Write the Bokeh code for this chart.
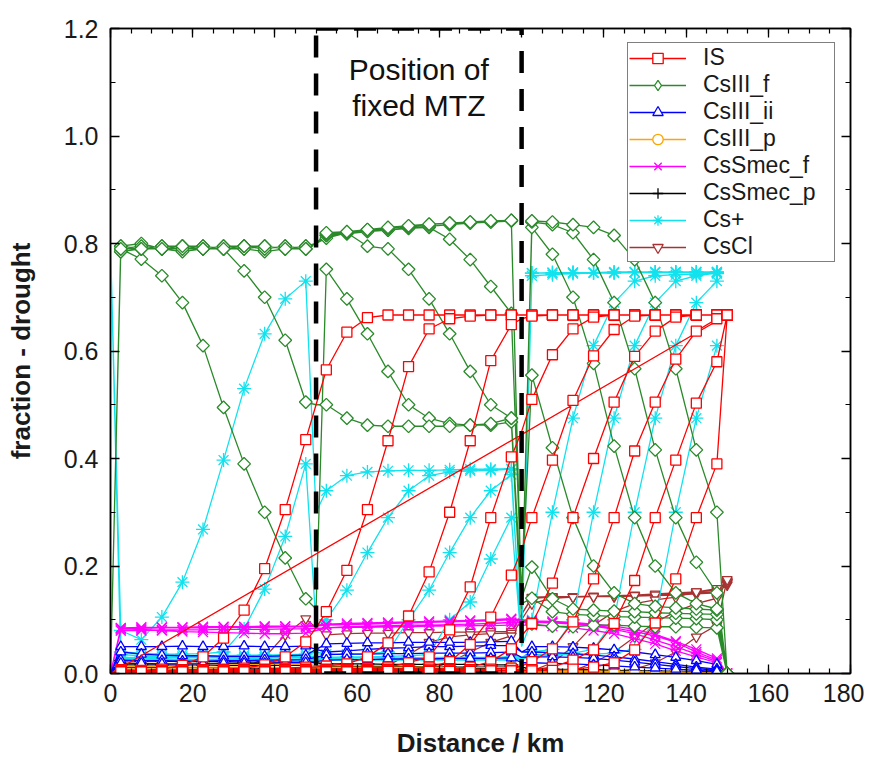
import math
from bokeh.plotting import figure
from bokeh.models import Range1d, LinearAxis, Legend, LegendItem, Label, FixedTicker
from bokeh.embed import file_html
from bokeh.resources import INLINE

NAN = float("nan")

# ---------------- data ----------------
distance_km = [0, 2.5, 7.5, 12.5, 17.5, 22.5, 27.5, 32.5, 37.5, 42.5, 47.5,
               50, 52.5, 57.5, 62.5, 67.5, 72.5, 77.5, 82.5, 87.5, 92.5, 97.5,
               100, 102.5, 107.5, 112.5, 117.5, 122.5, 127.5, 132.5, 137.5, 142.5, 147.5,
               150]
# boundary nodes (inlet and MTZ edges) are drawn without a marker
boundary_km = [0, 50, 100]

mtz_start = 50
mtz_end = 100

x_ticks = [0, 20, 40, 60, 80, 100, 120, 140, 160, 180]
x_minor = [0, 5, 10, 15, 20, 25, 30, 35, 40, 45, 50, 55, 60, 65, 70, 75, 80, 85, 90,
           95, 100, 105, 110, 115, 120, 125, 130, 135, 140, 145, 150, 155, 160, 165,
           170, 175, 180]
y_ticks = [0.0, 0.2, 0.4, 0.6, 0.8, 1.0, 1.2]
y_tick_labels = ["0.0", "0.2", "0.4", "0.6", "0.8", "1.0", "1.2"]
y_minor = [0.0, 0.1, 0.2, 0.3, 0.4, 0.5, 0.6, 0.7, 0.8, 0.9, 1.0, 1.1, 1.2]

# IS
is_t1 = [0.000,
         0.007, 0.006, 0.008, 0.015, 0.031, 0.066, 0.118, 0.195, 0.305, 0.435,
         0.500,
         0.565, 0.635, 0.662, 0.667, 0.667, 0.667, 0.667, 0.667, 0.667, 0.667,
         0.667,
         0.667, 0.667, 0.667, 0.667, 0.667, 0.667, 0.667, 0.667, 0.667, 0.667,
         0.667]
is_t2 = [0.000,
         0.004, 0.005, 0.006, 0.007, 0.007, 0.008, 0.010, 0.016, 0.031, 0.059,
         0.085,
         0.115, 0.192, 0.305, 0.433, 0.571, 0.641, 0.660, 0.665, 0.667, 0.667,
         0.667,
         0.667, 0.667, 0.667, 0.667, 0.667, 0.667, 0.667, 0.667, 0.667, 0.667,
         0.667]
is_t3 = [0.000,
         0.005, 0.004, 0.005, 0.006, 0.006, 0.007, 0.007, 0.008, 0.010, 0.012,
         0.012,
         0.014, 0.018, 0.031, 0.057, 0.107, 0.189, 0.300, 0.433, 0.582, 0.649,
         0.660,
         0.665, 0.667, 0.667, 0.667, 0.667, 0.667, 0.667, 0.667, 0.667, 0.667,
         0.667]
is_t4 = [0.000,
         0.006, 0.005, 0.005, 0.005, 0.006, 0.006, 0.007, 0.007, 0.008, 0.008,
         0.008,
         0.008, 0.009, 0.010, 0.012, 0.020, 0.031, 0.081, 0.161, 0.290, 0.403,
         0.450,
         0.510, 0.593, 0.641, 0.663, 0.667, 0.667, 0.667, 0.667, 0.667, 0.667,
         0.667]
is_t5 = [0.000,
         0.004, 0.004, 0.005, 0.005, 0.005, 0.006, 0.006, 0.006, 0.007, 0.007,
         0.007,
         0.007, 0.007, 0.008, 0.008, 0.009, 0.012, 0.022, 0.054, 0.105, 0.183,
         0.230,
         0.290, 0.397, 0.508, 0.591, 0.640, 0.665, 0.667, 0.667, 0.667, 0.667,
         0.667]
is_t6 = [0.000,
         0.005, 0.005, 0.004, 0.005, 0.005, 0.005, 0.006, 0.005, 0.006, 0.006,
         0.006,
         0.006, 0.006, 0.007, 0.007, 0.007, 0.008, 0.009, 0.012, 0.022, 0.046,
         0.070,
         0.093, 0.168, 0.290, 0.400, 0.505, 0.590, 0.637, 0.663, 0.667, 0.667,
         0.667]
is_t7 = [0.000,
         0.004, 0.004, 0.004, 0.004, 0.005, 0.005, 0.005, 0.005, 0.005, 0.005,
         0.005,
         0.005, 0.005, 0.006, 0.006, 0.006, 0.006, 0.007, 0.007, 0.008, 0.010,
         0.014,
         0.022, 0.046, 0.096, 0.176, 0.290, 0.414, 0.505, 0.585, 0.637, 0.660,
         0.667]
is_t8 = [0.000,
         0.003, 0.003, 0.003, 0.003, 0.003, 0.003, 0.003, 0.003, 0.003, 0.003,
         0.004,
         0.004, 0.004, 0.004, 0.005, 0.005, 0.005, 0.005, 0.005, 0.006, 0.006,
         0.006,
         0.007, 0.012, 0.025, 0.044, 0.093, 0.173, 0.290, 0.397, 0.503, 0.580,
         0.667]
is_t9 = [0.000,
         0.003, 0.003, 0.003, 0.003, 0.003, 0.003, 0.003, 0.003, 0.003, 0.003,
         0.003,
         0.003, 0.003, 0.003, 0.004, 0.004, 0.004, 0.004, 0.004, 0.005, 0.005,
         0.005,
         0.005, 0.006, 0.008, 0.012, 0.020, 0.044, 0.094, 0.176, 0.290, 0.390,
         0.667]

# CsIII_f
f_t1 = [0.000,
        0.790, 0.771, 0.740, 0.690, 0.610, 0.495, 0.390, 0.300, 0.215, 0.139,
        0.120,
        0.752, 0.697, 0.632, 0.562, 0.500, 0.475, 0.465, 0.462, 0.462, 0.468,
        0.100,
        0.092, 0.088, 0.087, 0.090, 0.090, 0.088, 0.087, 0.087, 0.086, 0.085,
        0.000]
f_t2 = [0.000,
        0.785, 0.790, 0.795, 0.795, 0.790, 0.790, 0.749, 0.700, 0.620, 0.505,
        0.500,
        0.500, 0.475, 0.462, 0.460, 0.460, 0.460, 0.460, 0.462, 0.465, 0.475,
        0.130,
        0.140, 0.115, 0.110, 0.108, 0.106, 0.105, 0.104, 0.103, 0.102, 0.100,
        0.000]
f_t3 = [0.000,
        0.795, 0.800, 0.790, 0.785, 0.790, 0.795, 0.790, 0.785, 0.790, 0.795,
        0.800,
        0.810, 0.820, 0.795, 0.790, 0.752, 0.697, 0.632, 0.562, 0.500, 0.475,
        0.140,
        0.198, 0.139, 0.120, 0.118, 0.116, 0.115, 0.113, 0.112, 0.111, 0.110,
        0.000]
f_t4 = [0.000,
        0.785, 0.790, 0.790, 0.795, 0.795, 0.790, 0.795, 0.790, 0.795, 0.790,
        0.800,
        0.815, 0.820, 0.825, 0.825, 0.828, 0.830, 0.808, 0.770, 0.720, 0.670,
        0.150,
        0.555, 0.420, 0.290, 0.200, 0.150, 0.130, 0.125, 0.122, 0.120, 0.118,
        0.000]
f_t5 = [0.000,
        0.790, 0.795, 0.790, 0.790, 0.795, 0.790, 0.790, 0.795, 0.790, 0.795,
        0.800,
        0.815, 0.818, 0.822, 0.825, 0.830, 0.832, 0.835, 0.838, 0.840, 0.842,
        0.120,
        0.830, 0.780, 0.700, 0.577, 0.423, 0.290, 0.200, 0.150, 0.130, 0.120,
        0.000]
f_t6 = [0.000,
        0.795, 0.790, 0.795, 0.790, 0.790, 0.795, 0.795, 0.790, 0.795, 0.790,
        0.800,
        0.818, 0.820, 0.825, 0.828, 0.832, 0.835, 0.838, 0.840, 0.840, 0.843,
        0.120,
        0.840, 0.835, 0.820, 0.770, 0.690, 0.567, 0.416, 0.290, 0.207, 0.150,
        0.000]
f_t7 = [0.000,
        0.790, 0.790, 0.790, 0.795, 0.790, 0.790, 0.795, 0.795, 0.790, 0.790,
        0.800,
        0.820, 0.822, 0.826, 0.830, 0.833, 0.836, 0.838, 0.840, 0.842, 0.843,
        0.120,
        0.842, 0.840, 0.835, 0.830, 0.815, 0.770, 0.690, 0.567, 0.416, 0.300,
        0.000]

# CsIII_ii
ii_t1 = [0.000,
         0.050, 0.050, 0.050, 0.051, 0.050, 0.050, 0.051, 0.050, 0.050, 0.051,
         0.045,
         0.040, 0.042, 0.045, 0.047, 0.048, 0.050, 0.050, 0.051, 0.052, 0.052,
         0.040,
         0.050, 0.050, 0.049, 0.047, 0.044, 0.040, 0.035, 0.030, 0.024, 0.017,
         0.000]
ii_t2 = [0.000,
         0.040, 0.036, 0.034, 0.033, 0.033, 0.032, 0.032, 0.032, 0.033, 0.034,
         0.045,
         0.055, 0.056, 0.057, 0.057, 0.058, 0.058, 0.058, 0.058, 0.059, 0.060,
         0.040,
         0.040, 0.039, 0.037, 0.034, 0.031, 0.027, 0.022, 0.017, 0.012, 0.008,
         0.000]
ii_t3 = [0.000,
         0.025, 0.024, 0.024, 0.023, 0.023, 0.024, 0.024, 0.025, 0.025, 0.026,
         0.030,
         0.035, 0.036, 0.036, 0.037, 0.037, 0.038, 0.038, 0.038, 0.039, 0.040,
         0.030,
         0.031, 0.031, 0.030, 0.028, 0.025, 0.021, 0.017, 0.013, 0.009, 0.006,
         0.000]
ii_t4 = [0.000,
         0.019, 0.019, 0.018, 0.018, 0.018, 0.019, 0.019, 0.019, 0.020, 0.020,
         0.022,
         0.025, 0.026, 0.026, 0.027, 0.027, 0.027, 0.028, 0.028, 0.028, 0.029,
         0.020,
         0.020, 0.019, 0.018, 0.016, 0.014, 0.012, 0.010, 0.008, 0.006, 0.004,
         0.000]

# CsIII_p
p_t1 = [0.000,
        0.020, 0.019, 0.019, 0.018, 0.018, 0.018, 0.017, 0.017, 0.017, 0.017,
        0.014,
        0.012, 0.012, 0.012, 0.012, 0.012, 0.012, 0.011, 0.011, 0.011, 0.011,
        0.008,
        0.006, 0.006, 0.005, 0.005, 0.004, 0.004, 0.003, 0.003, 0.002, 0.002,
        0.000]
p_t2 = [0.000,
        0.013, 0.013, 0.013, 0.012, 0.012, 0.012, 0.012, 0.012, 0.011, 0.011,
        0.010,
        0.008, 0.008, 0.008, 0.008, 0.008, 0.008, 0.008, 0.007, 0.007, 0.007,
        0.005,
        0.004, 0.004, 0.004, 0.003, 0.003, 0.003, 0.002, 0.002, 0.002, 0.001,
        0.000]
p_t3 = [0.000,
        0.008, 0.008, 0.008, 0.008, 0.008, 0.008, 0.007, 0.007, 0.007, 0.007,
        0.006,
        0.005, 0.005, 0.005, 0.005, 0.005, 0.005, 0.005, 0.005, 0.005, 0.005,
        0.003,
        0.002, 0.002, 0.002, 0.002, 0.002, 0.001, 0.001, 0.001, 0.001, 0.001,
        0.000]

# CsSmec_f
sf_t1 = [0.000,
         0.085, 0.086, 0.086, 0.086, 0.087, 0.087, 0.087, 0.088, 0.088, 0.088,
         0.090,
         0.092, 0.093, 0.094, 0.095, 0.096, 0.097, 0.098, 0.099, 0.100, 0.102,
         0.100,
         0.098, 0.097, 0.095, 0.092, 0.088, 0.082, 0.073, 0.060, 0.045, 0.028,
         0.000]
sf_t2 = [0.000,
         0.084, 0.082, 0.080, 0.078, 0.077, 0.076, 0.075, 0.074, 0.074, 0.075,
         0.080,
         0.085, 0.087, 0.088, 0.089, 0.090, 0.090, 0.091, 0.092, 0.093, 0.095,
         0.095,
         0.095, 0.094, 0.092, 0.088, 0.082, 0.074, 0.062, 0.050, 0.036, 0.022,
         0.000]
sf_t3 = [0.000,
         0.083, 0.084, 0.085, 0.085, 0.085, 0.086, 0.086, 0.086, 0.087, 0.087,
         0.088,
         0.090, 0.091, 0.092, 0.093, 0.094, 0.095, 0.096, 0.097, 0.098, 0.100,
         0.098,
         0.096, 0.095, 0.093, 0.090, 0.085, 0.078, 0.070, 0.058, 0.040, 0.025,
         0.000]
sf_t4 = [0.000,
         0.080, 0.080, 0.081, 0.081, 0.081, 0.082, 0.082, 0.082, 0.083, 0.083,
         0.084,
         0.085, 0.086, 0.086, 0.087, 0.087, 0.088, 0.088, 0.089, 0.089, 0.090,
         0.090,
         0.090, 0.088, 0.085, 0.080, 0.074, 0.065, 0.055, 0.042, 0.031, 0.020,
         0.000]

# CsSmec_p
sp_t1 = [0.000,
         0.024, 0.023, 0.023, 0.022, 0.022, 0.022, 0.021, 0.021, 0.021, 0.021,
         0.020,
         0.018, 0.018, 0.018, 0.017, 0.017, 0.017, 0.017, 0.017, 0.016, 0.016,
         0.012,
         0.008, 0.008, 0.007, 0.007, 0.006, 0.005, 0.005, 0.004, 0.004, 0.003,
         0.000]
sp_t2 = [0.000,
         0.016, 0.016, 0.016, 0.016, 0.016, 0.015, 0.015, 0.015, 0.015, 0.015,
         0.014,
         0.013, 0.013, 0.013, 0.013, 0.013, 0.012, 0.012, 0.012, 0.012, 0.012,
         0.008,
         0.005, 0.005, 0.005, 0.004, 0.004, 0.004, 0.003, 0.003, 0.002, 0.002,
         0.000]
sp_t3 = [0.000,
         0.011, 0.011, 0.011, 0.011, 0.011, 0.011, 0.010, 0.010, 0.010, 0.010,
         0.010,
         0.009, 0.009, 0.009, 0.009, 0.009, 0.009, 0.009, 0.009, 0.009, 0.009,
         0.006,
         0.003, 0.003, 0.003, 0.003, 0.003, 0.002, 0.002, 0.002, 0.002, 0.002,
         0.000]

# Cs+
c_t1 = [0.800,
        0.080, 0.063, 0.105, 0.170, 0.268, 0.397, 0.530, 0.632, 0.697, 0.730,
        0.300,
        0.340, 0.368, 0.375, 0.377, 0.378, 0.378, 0.379, 0.380, 0.380, 0.381,
        0.050,
        0.745, 0.746, 0.746, 0.746, 0.747, 0.747, 0.747, 0.747, 0.747, 0.747,
        NAN]
c_t2 = [0.800,
        0.040, 0.038, 0.036, 0.036, 0.037, 0.040, 0.083, 0.157, 0.255, 0.390,
        0.090,
        0.100, 0.155, 0.225, 0.290, 0.340, 0.368, 0.375, 0.377, 0.378, 0.380,
        0.050,
        0.745, 0.745, 0.746, 0.746, 0.746, 0.747, 0.747, 0.747, 0.747, 0.747,
        NAN]
c_t3 = [0.800,
        0.035, 0.033, 0.032, 0.032, 0.033, 0.033, 0.034, 0.034, 0.035, 0.036,
        0.040,
        0.036, 0.036, 0.037, 0.040, 0.100, 0.155, 0.225, 0.290, 0.340, 0.370,
        0.050,
        0.740, 0.742, 0.744, 0.745, 0.745, 0.746, 0.746, 0.746, 0.746, 0.746,
        NAN]
c_t4 = [0.800,
        0.030, 0.030, 0.030, 0.030, 0.030, 0.031, 0.031, 0.031, 0.031, 0.032,
        0.032,
        0.030, 0.031, 0.031, 0.032, 0.033, 0.035, 0.100, 0.133, 0.213, 0.290,
        0.050,
        0.100, 0.300, 0.475, 0.610, 0.690, 0.730, 0.740, 0.742, 0.743, 0.744,
        NAN]
c_t5 = [0.800,
        0.028, 0.028, 0.028, 0.029, 0.029, 0.029, 0.029, 0.030, 0.030, 0.030,
        0.030,
        0.028, 0.028, 0.029, 0.029, 0.029, 0.030, 0.030, 0.030, 0.030, 0.031,
        0.030,
        0.040, 0.045, 0.100, 0.300, 0.475, 0.610, 0.690, 0.730, 0.740, 0.745,
        NAN]
c_t6 = [0.800,
        0.026, 0.026, 0.026, 0.026, 0.026, 0.026, 0.027, 0.027, 0.027, 0.027,
        0.027,
        0.026, 0.026, 0.026, 0.026, 0.026, 0.027, 0.027, 0.027, 0.027, 0.027,
        0.028,
        0.035, 0.036, 0.038, 0.045, 0.100, 0.300, 0.475, 0.610, 0.690, 0.730,
        NAN]
c_t7 = [0.800,
        0.025, 0.025, 0.025, 0.025, 0.025, 0.025, 0.025, 0.025, 0.025, 0.025,
        0.025,
        0.025, 0.025, 0.025, 0.025, 0.025, 0.025, 0.025, 0.025, 0.025, 0.025,
        0.026,
        0.033, 0.034, 0.035, 0.036, 0.038, 0.045, 0.100, 0.300, 0.475, 0.610,
        NAN]

# CsCl
cl_t1 = [0.000,
         0.002, 0.002, 0.002, 0.002, 0.003, 0.004, 0.008, 0.030, 0.072, 0.102,
         0.085,
         0.072, 0.074, 0.075, 0.075, 0.076, 0.076, 0.077, 0.077, 0.078, 0.078,
         0.110,
         0.140, 0.142, 0.142, 0.143, 0.143, 0.144, 0.145, 0.146, 0.148, 0.150,
         0.165]
cl_t2 = [0.000,
         0.002, 0.002, 0.002, 0.002, 0.002, 0.002, 0.002, 0.002, 0.002, 0.002,
         0.002,
         0.002, 0.003, 0.006, 0.015, 0.035, 0.058, 0.068, 0.072, 0.074, 0.075,
         0.110,
         0.142, 0.143, 0.143, 0.144, 0.145, 0.146, 0.148, 0.150, 0.152, 0.155,
         0.168]
cl_t3 = [0.000,
         0.001, 0.001, 0.001, 0.001, 0.001, 0.001, 0.001, 0.001, 0.001, 0.001,
         0.001,
         0.002, 0.002, 0.002, 0.002, 0.004, 0.008, 0.020, 0.040, 0.058, 0.070,
         0.100,
         0.130, 0.140, 0.142, 0.143, 0.144, 0.145, 0.146, 0.148, 0.150, 0.152,
         0.170]
cl_t4 = [0.000,
         0.001, 0.001, 0.001, 0.001, 0.001, 0.001, 0.001, 0.001, 0.001, 0.001,
         0.001,
         0.001, 0.001, 0.001, 0.001, 0.001, 0.002, 0.002, 0.002, 0.003, 0.003,
         0.004,
         0.005, 0.020, 0.050, 0.090, 0.115, 0.130, 0.137, 0.142, 0.152, 0.158,
         0.170]
cl_t5 = [0.000,
         0.001, 0.001, 0.001, 0.001, 0.001, 0.001, 0.001, 0.001, 0.001, 0.001,
         0.001,
         0.001, 0.001, 0.001, 0.001, 0.001, 0.001, 0.001, 0.001, 0.002, 0.002,
         0.002,
         0.002, 0.003, 0.005, 0.020, 0.040, 0.068, 0.095, 0.115, 0.130, 0.140,
         0.172]
cl_t6 = [0.000,
         0.001, 0.001, 0.001, 0.001, 0.001, 0.001, 0.001, 0.001, 0.001, 0.001,
         0.001,
         0.001, 0.001, 0.001, 0.001, 0.001, 0.001, 0.001, 0.001, 0.001, 0.001,
         0.001,
         0.001, 0.002, 0.002, 0.003, 0.004, 0.008, 0.020, 0.040, 0.068, 0.090,
         0.175]

species = [
    # name, snapshots, colour, marker, size, angle, joined, legend marker
    ("IS", [is_t1, is_t2, is_t3, is_t4, is_t5, is_t6, is_t7, is_t8, is_t9], "#ff0000", "square", 10, 0.0, True, None),
    ("CsIII_f", [f_t1, f_t2, f_t3, f_t4, f_t5, f_t6, f_t7], "#2a8a2a", "square", 9, math.pi / 4, False, "diamond"),
    ("CsIII_ii", [ii_t1, ii_t2, ii_t3, ii_t4], "#0000ff", "triangle", 10, 0.0, False, None),
    ("CsIII_p", [p_t1, p_t2, p_t3], "#ffa500", "circle", 10, 0.0, False, None),
    ("CsSmec_f", [sf_t1, sf_t2, sf_t3, sf_t4], "#ff00ff", "x", 14, 0.0, False, None),
    ("CsSmec_p", [sp_t1, sp_t2, sp_t3], "#000000", "cross", 14, 0.0, False, None),
    ("Cs+", [c_t1, c_t2, c_t3, c_t4, c_t5, c_t6, c_t7], "#12e2ee", "asterisk", 14, 0.0, False, None),
    ("CsCl", [cl_t1, cl_t2, cl_t3, cl_t4, cl_t5, cl_t6], "#a83232", "inverted_triangle", 10, 0.0, False, None),
]

FONT = "Liberation Sans"

p = figure(width=864, height=760, output_backend="svg", toolbar_location=None,
           x_range=Range1d(0, 180), y_range=Range1d(0, 1.2),
           min_border_left=110, min_border_right=14, min_border_top=28, min_border_bottom=83,
           background_fill_color="white", border_fill_color="white")
p.grid.visible = False
p.outline_line_color = "black"
p.outline_line_width = 1.5

xt = FixedTicker(ticks=x_ticks, minor_ticks=x_minor)
yt = FixedTicker(ticks=y_ticks, minor_ticks=y_minor)


def style_axis(ax, ticker):
    ax.ticker = ticker
    ax.axis_line_color = "black"
    ax.axis_line_width = 1.5
    ax.major_tick_in = 9
    ax.major_tick_out = 0
    ax.minor_tick_in = 5
    ax.minor_tick_out = 0
    ax.major_tick_line_color = "black"
    ax.minor_tick_line_color = "black"
    ax.major_tick_line_width = 1.3
    ax.minor_tick_line_width = 1.2


style_axis(p.xaxis[0], xt)
style_axis(p.yaxis[0], yt)
p.xaxis.major_label_text_font = FONT
p.xaxis.major_label_text_font_size = "25px"
p.xaxis.major_label_text_color = "#1a1a1a"
p.xaxis.major_label_standoff = 10
p.xaxis.axis_label = "Distance / km"
p.xaxis.axis_label_text_font = FONT
p.xaxis.axis_label_text_font_style = "bold"
p.xaxis.axis_label_text_font_size = "26px"
p.xaxis.axis_label_text_color = "#1a1a1a"
p.xaxis.axis_label_standoff = 23

p.yaxis.major_label_text_font = FONT
p.yaxis.major_label_text_font_size = "25px"
p.yaxis.major_label_text_color = "#1a1a1a"
p.yaxis.major_label_standoff = 12
p.yaxis.major_label_overrides = {t: l for t, l in zip(y_ticks, y_tick_labels)}
p.yaxis.axis_label = "fraction - drought"
p.yaxis.axis_label_text_font = FONT
p.yaxis.axis_label_text_font_style = "bold"
p.yaxis.axis_label_text_font_size = "26px"
p.yaxis.axis_label_text_color = "#1a1a1a"
p.yaxis.axis_label_standoff = 25

for loc, tk in (("right", yt), ("above", xt)):
    ax = LinearAxis()
    style_axis(ax, tk)
    ax.major_label_text_color = None
    ax.major_label_text_font_size = "2px"
    ax.major_label_standoff = 0
    p.add_layout(ax, loc)

legend_items = {}
for name, snaps, colour, marker, size, angle, joined, leg_marker in reversed(species):
    xs, ys = [], []
    mx, my = [], []
    for snap in snaps:
        if xs and not joined:
            xs.append(NAN)
            ys.append(NAN)
        for x, y in zip(distance_km, snap):
            xs.append(x)
            ys.append(y)
            if x not in boundary_km and not math.isnan(y):
                mx.append(x)
                my.append(y)
    lr = p.line(xs, ys, line_color=colour, line_width=1.3)
    sr = p.scatter(mx, my, marker=marker, size=size, angle=angle,
                   line_color=colour, fill_color="white", line_width=1.3)
    if leg_marker is not None:
        sr = p.scatter([NAN], [NAN], marker=leg_marker, size=size,
                       line_color=colour, fill_color="white", line_width=1.3)
    legend_items[name] = [lr, sr]

# MTZ box
box_x = [mtz_start, mtz_end, mtz_end, mtz_start, mtz_start]
box_y = [1.2, 1.2, 0.0, 0.0, 1.2]
p.line(box_x, box_y, line_color="black", line_width=4.5, line_dash="22 16")

mid = (mtz_start + mtz_end) / 2
for txt, yy in (("Position of", 1.124), ("fixed MTZ", 1.057)):
    p.add_layout(Label(x=mid, y=yy, text=txt, text_align="center", text_baseline="middle",
                       text_font=FONT, text_font_size="30px", text_color="#111111"))

legend = Legend(items=[LegendItem(label=n, renderers=legend_items[n]) for n, *_ in species],
                location=(517, 411))
legend.label_text_font = FONT
legend.label_text_font_size = "23px"
legend.label_text_color = "#1a1a1a"
legend.glyph_width = 57
legend.glyph_height = 26
legend.label_height = 26
legend.label_width = 130
legend.label_standoff = 17
legend.padding = 1
legend.spacing = 0
legend.margin = 0
legend.border_line_color = "black"
legend.border_line_width = 1.5
legend.background_fill_color = "white"
legend.background_fill_alpha = 1.0
p.add_layout(legend)

open("out.html", "w").write(file_html(p, INLINE))
